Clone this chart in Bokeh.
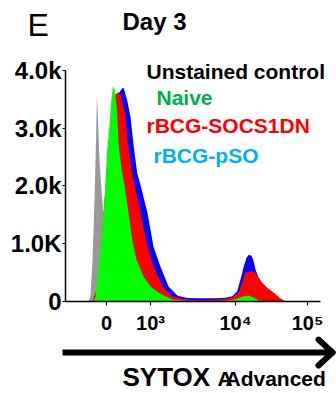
from bokeh.plotting import figure
from bokeh.layouts import column
from bokeh.models import Range1d, FixedTicker, Label, Arrow
from bokeh.embed import file_html
from bokeh.resources import INLINE

# ---- data (x in display channels of the biexponential axis, y in cell counts) ----
x_tick_channels = [41, 85, 170, 242]
x_tick_labels = ["0", "10³", "10⁴", "10⁵"]
y_ticks = [0, 1000, 2000, 3000, 4000]
y_tick_labels = ["0", "1.0K", "2.0k", "3.0k", "4.0k"]

unstained_ch = [23, 25, 27, 29, 30.5, 31.5, 32.5, 34, 36, 38, 40, 42, 44]
unstained_counts = [0, 100, 720, 1760, 2790, 3600, 3140, 2450, 1930, 1500, 980, 465, 0]

naive_ch = [28, 30, 31.7, 35, 37, 39, 41.7, 44, 46, 47.5, 49.3, 51.7, 53.3, 56.7, 59, 63, 66.7,
            71, 78, 85, 93, 100, 107, 120, 135, 150, 163, 171, 177, 183, 188, 193, 200, 210]
naive_counts = [0, 86, 379, 897, 1328, 1759, 2621, 3051, 3517, 3724, 3655, 3258, 2672, 2224, 2017,
                1534, 1069, 724, 431, 259, 155, 86, 34, 12, 9, 9, 17, 43, 86, 103, 69, 22, 5, 0]

socs1dn_ch = [27, 31, 34, 36, 38, 41, 44, 47, 50, 53, 55, 59.3, 62.7, 66.7, 69, 75, 82, 88, 97,
              107, 115, 125, 140, 155, 166.7, 173.3, 176.7, 180, 185, 190, 195, 201.7, 208.3,
              215, 220, 225]
socs1dn_counts = [0, 207, 552, 983, 1500, 2190, 2879, 3396, 3586, 3620, 3569, 3258, 2672, 2224,
                  2017, 1534, 948, 603, 259, 86, 50, 30, 28, 35, 69, 155, 328, 500, 522, 500,
                  350, 236, 150, 52, 5, 0]

pso_ch = [28, 32, 35, 37, 39, 42, 45, 48, 51, 54, 56.7, 58.3, 61.7, 65, 68.3, 71.7, 75, 82, 88,
          95, 103, 112, 122, 135, 150, 160, 166.7, 171.7, 175, 178.3, 181, 183.3, 186, 187.7,
          190, 193, 196.7, 201, 207, 213, 218]
pso_counts = [0, 207, 690, 1207, 1724, 2414, 3051, 3448, 3586, 3620, 3689, 3689, 3482, 3189,
              2672, 2224, 2017, 1534, 948, 603, 259, 100, 60, 55, 55, 65, 91, 177, 379, 608,
              759, 810, 793, 724, 552, 414, 322, 224, 138, 69, 0]

legend_names = ["Unstained control", "Naive", "rBCG-SOCS1DN", "rBCG-pSO"]
legend_colors = ["#000000", "#00b050", "#ff0000", "#00b0f0"]

FONT = "Liberation Sans"
PX_PER_COUNT = 0.058   # vertical scale
X_AXIS_END = 255       # channel where the drawn x axis stops
W = 336
TOP_H, MAIN_H, BOT_H = 46, 290, 57
FRAME_H = 302 - TOP_H


def no_align(f):
    try:
        f.frame_align = False
    except (AttributeError, ValueError):
        pass


def blank(h):
    f = figure(width=W, height=h, x_range=Range1d(0, W), y_range=Range1d(h, 0),
               x_axis_type=None, y_axis_type=None, output_backend="svg",
               toolbar_location=None, title=None,
               min_border_left=0, min_border_right=0, min_border_top=0, min_border_bottom=0)
    f.outline_line_color = None
    f.xgrid.visible = False
    f.ygrid.visible = False
    no_align(f)
    return f


def lab(fig, text, x, base, size, color="black", style="bold"):
    # base = wanted baseline (canvas px); Bokeh's alphabetic anchor sits ~1/3 em lower
    fig.add_layout(Label(x=x, y=base - size / 3.0, x_units="canvas", y_units="canvas", text=text,
                         text_font=FONT, text_font_size=f"{size}px", text_font_style=style,
                         text_color=color, text_baseline="alphabetic", text_align="left"))


# ---------------- top strip: panel letter and title ----------------
top = blank(TOP_H)
lab(top, "E", 27, 35, 32, style="normal")
lab(top, "Day 3", 122, 29, 24)

# ---------------- main histogram plot ----------------
p = figure(width=W, height=MAIN_H,
           x_range=Range1d(0, W - 65), y_range=Range1d(0, FRAME_H / PX_PER_COUNT),
           output_backend="svg", toolbar_location=None, title=None,
           min_border_left=65, min_border_right=0, min_border_top=0,
           min_border_bottom=MAIN_H - FRAME_H)
no_align(p)
p.xgrid.visible = False
p.ygrid.visible = False
p.outline_line_color = None

p.varea(x=unstained_ch, y1=0, y2=unstained_counts, fill_color="#999999")
p.varea(x=pso_ch, y1=0, y2=pso_counts, fill_color="#0000ff")
p.varea(x=socs1dn_ch, y1=0, y2=socs1dn_counts, fill_color="#ff0000")
p.varea(x=naive_ch, y1=0, y2=naive_counts, fill_color="#00ff00")

xa = p.xaxis[0]
xa.bounds = (0, X_AXIS_END)
xa.ticker = FixedTicker(ticks=x_tick_channels)
xa.major_label_overrides = dict(zip(x_tick_channels, x_tick_labels))
xa.minor_tick_line_color = None
xa.major_tick_in = 0
xa.major_tick_out = 4
xa.axis_line_width = 1.5
xa.major_label_standoff = 6
xa.major_label_text_font = FONT
xa.major_label_text_font_style = "bold"
xa.major_label_text_font_size = "20px"
xa.major_label_text_color = "black"

ya = p.yaxis[0]
ya.bounds = (0, y_ticks[-1])
ya.ticker = FixedTicker(ticks=y_ticks)
ya.major_label_overrides = dict(zip(y_ticks, y_tick_labels))
ya.minor_tick_line_color = None
ya.major_tick_in = 0
ya.major_tick_out = 3
ya.axis_line_width = 1.5
ya.major_label_standoff = 1
ya.major_label_text_font = FONT
ya.major_label_text_font_style = "bold"
ya.major_label_text_font_size = "24px"
ya.major_label_text_color = "black"

legend_base = [78, 104, 132, 162]
legend_left = [146, 156, 146, 153]
for name, col, lx, ly in zip(legend_names, legend_colors, legend_left, legend_base):
    lab(p, name, lx, ly - TOP_H, 21, color=col)

# ---------------- bottom strip: axis arrow and axis title ----------------
bot = blank(BOT_H)
y0 = TOP_H + MAIN_H
bot.add_layout(Arrow(x_start=62, y_start=352 - y0, x_end=330, y_end=352 - y0,
                     start_units="canvas", end_units="canvas", end=None,
                     line_width=6, line_color="black"))
for ay in (339, 365):
    bot.add_layout(Arrow(x_start=318, y_start=ay - y0, x_end=332, y_end=352 - y0,
                         start_units="canvas", end_units="canvas", end=None,
                         line_width=6, line_color="black", line_cap="round"))
lab(bot, "SYTOX", 122, 385 - y0, 26)
lab(bot, "A", 217, 385 - y0, 21)
lab(bot, "Advanced", 225, 385 - y0, 21)

layout = column(top, p, bot, spacing=0)
open("out.html", "w").write(file_html(layout, INLINE))
